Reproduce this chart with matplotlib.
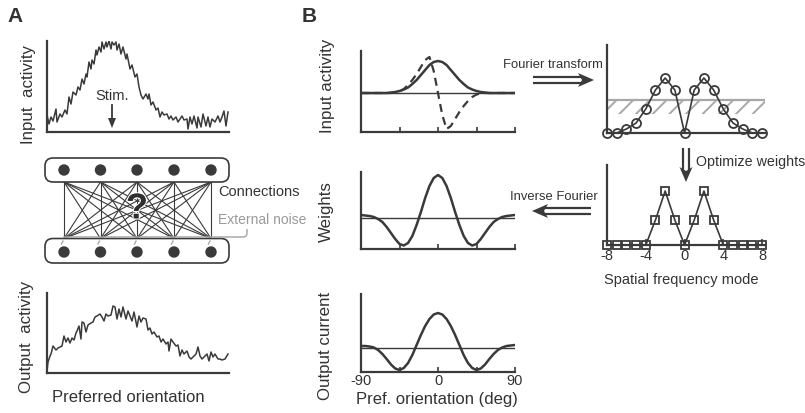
import numpy as np
import matplotlib
matplotlib.use("Agg")
import matplotlib.pyplot as plt
import matplotlib.patheffects as pe
from matplotlib.patches import FancyBboxPatch, Circle, Polygon
from matplotlib.path import Path
from matplotlib.patches import PathPatch

plt.rcParams['font.family'] = ['Liberation Sans', 'DejaVu Sans']
plt.rcParams['hatch.linewidth'] = 1.4

W, H = 805, 414
DARK = '#3a3a3a'
TXT = '#333333'
GREY = '#9a9a9a'

# ---------------- data ----------------
# Panel A: noisy input activity (position along axis, activity)
inA_x = [0, 2, 4, 6, 9, 10, 13, 15, 18, 20, 22, 24, 26, 29, 31, 33, 35, 37, 39, 40, 42, 44, 45, 47, 49, 50,
         52, 54, 55, 57, 59, 60, 62, 64, 65, 67, 69, 70, 72, 74, 76, 79, 80, 83, 85, 88, 90, 92, 94, 96, 99,
         101, 102, 104, 106, 109, 111, 113, 115, 117, 120, 122, 124, 126, 129, 131, 133, 135, 137, 140, 141,
         143, 145, 147, 150, 151, 154, 156, 159, 161, 163, 165, 168, 171, 173, 175, 177, 179, 181]
inA_y = [17, 8, 15, 11, 23, 10, 18, 15, 22, 18, 35, 28, 40, 37, 45, 42, 53, 48, 58, 55, 70, 63, 72, 68, 82, 77,
         85, 80, 90, 83, 90, 85, 91, 83, 90, 87, 90, 82, 88, 78, 85, 73, 78, 63, 67, 55, 58, 45, 37, 33, 38,
         33, 38, 27, 30, 22, 24, 15, 20, 17, 18, 13, 16, 12, 15, 10, 13, 16, 12, 13, 3,
         15, 8, 16, 4, 15, 5, 18, 6, 15, 5, 13, 10, 16, 10, 15, 21, 6, 20]

# Panel A: noisy output activity
outA_x = [0, 1, 3, 4, 6, 9, 11, 13, 15, 17, 19, 21, 23, 25, 27, 29, 30, 32, 34, 35, 37, 39, 41, 44, 46, 48,
          50, 53, 55, 57, 59, 61, 64, 66, 68, 70, 72, 74, 76, 79, 81, 83, 85, 87, 90, 92, 94, 96, 99, 101,
          103, 105, 107, 110, 112, 114, 116, 119, 121, 122, 124, 126, 129, 131, 133, 135, 137, 140, 142, 144,
          146, 149, 151, 153, 155, 157, 160, 162, 164, 166, 168, 171, 173, 175, 178, 181]
outA_y = [2, 11, 17, 19, 27, 23, 25, 26, 27, 37, 31, 35, 30, 35, 33, 40, 42, 47, 34, 51, 50, 41, 48, 50, 51, 56,
          57, 59, 56, 52, 59, 57, 58, 67, 66, 54, 64, 56, 66, 54, 62, 57, 52, 61, 46, 57, 51, 55, 54, 43,
          45, 39, 41, 36, 37, 31, 34, 29, 31, 22, 34, 31, 27, 28, 17, 23, 19, 22, 16, 14,
          16, 19, 26, 17, 14, 16, 19, 12, 21, 16, 19, 14, 14, 13, 14, 19]

# Panel B: preferred orientation (deg) and curves
orient = [-90, -85, -80, -75, -70, -65, -60, -55, -50, -45, -40, -35, -30, -25, -20, -15, -10, -5, 0,
          5, 10, 15, 20, 25, 30, 35, 40, 45, 50, 55, 60, 65, 70, 75, 80, 85, 90]
input_solid = [0, 0, 0, 0, 0, 0, 0, 0.5, 1, 2, 3.5, 5.5, 9, 13, 18, 23, 28, 31, 32,
               31, 28, 23, 18, 13, 9, 5.5, 3.5, 2, 1, 0.5, 0, 0, 0, 0, 0, 0, 0]
input_dashed = [0, 0, 0, 0, 0, 0, 0, 0, 0.5, 1.5, 4, 8, 13, 19, 26, 33, 36, 22, 0,
                -22, -36, -33, -26, -19, -13, -8, -4, -1.5, -0.5, 0, 0, 0, 0, 0, 0, 0, 0]
weights = [3, 2.5, 2, 1, -1, -4, -9, -15, -21, -26, -27.5, -25, -18, -7, 6, 20, 32, 40, 43,
           40, 32, 20, 6, -7, -18, -25, -27.5, -26, -21, -15, -9, -4, -1, 1, 2, 2.5, 3]
output_current = [2, 2, 1.5, 0.5, -2, -6, -11, -16.5, -20.5, -22, -20, -15, -7, 3, 13, 22, 29, 33.5, 35,
                  33.5, 29, 22, 13, 3, -7, -15, -20, -22, -20.5, -16.5, -11, -6, -2, 0.5, 2, 2.5, 3]
orient_ticks = [-90, -45, 0, 45, 90]
orient_labels = ['-90', '', '0', '', '90']

# Spatial frequency modes
modes = list(range(-8, 9))
input_power = [0, 0, 4, 10, 24, 43, 55, 43, 0, 43, 55, 43, 24, 10, 4, 0, 0]
noise_level = 33
noise_low = 19
opt_weights = [0, 0, 0, 0, 0, 25, 54, 25, 0, 25, 54, 25, 0, 0, 0, 0, 0]
mode_ticks = [-8, -4, 0, 4, 8]

# ---------------- figure ----------------
fig = plt.figure(figsize=(W / 100, H / 100), dpi=100)

ov = fig.add_axes([0, 0, 1, 1])
ov.set_xlim(0, W)
ov.set_ylim(H, 0)
ov.axis('off')


def add_ax(x0, y0, x1, y1):
    ax = fig.add_axes([x0 / W, 1 - y1 / H, (x1 - x0) / W, (y1 - y0) / H])
    ax.patch.set_alpha(0)
    for s in ['top', 'right']:
        ax.spines[s].set_visible(False)
    for s in ['left', 'bottom']:
        ax.spines[s].set_color(DARK)
        ax.spines[s].set_linewidth(1.6)
    ax.tick_params(colors=DARK, labelcolor=TXT)
    return ax


def noticks(ax):
    ax.set_xticks([])
    ax.set_yticks([])


# Panel A input
ax = add_ax(47, 42, 229, 133)
ax.plot(inA_x, inA_y, color=DARK, lw=1.1)
ax.set_xlim(0, 182)
ax.set_ylim(0, 91)
noticks(ax)

# Panel A output
ax = add_ax(47, 294, 229, 374)
ax.plot(outA_x, outA_y, color=DARK, lw=1.1)
ax.set_xlim(0, 182)
ax.set_ylim(0, 80)
noticks(ax)


def orient_ax(y0, y1, ylim, labels=False):
    ax = add_ax(361, y0, 515, y1)
    ax.set_xlim(-90, 90)
    ax.set_ylim(*ylim)
    ax.set_yticks([])
    ax.set_xticks(orient_ticks)
    ax.tick_params(axis='x', direction='in', length=3.5, width=1.2, pad=1)
    if labels:
        ax.set_xticklabels(orient_labels, fontsize=10.5)
    else:
        ax.set_xticklabels([])
    ax.axhline(0, color=DARK, lw=1.0)
    return ax


ax = orient_ax(52, 133, (-39, 42))
ax.plot(orient, input_solid, color=DARK, lw=1.8)
ax.plot(orient, input_dashed, color=DARK, lw=1.6, ls=(0, (3.6, 2.4)))

ax = orient_ax(173, 250, (-31, 46))
ax.plot(orient, weights, color=DARK, lw=1.8)

ax = orient_ax(295, 373, (-24, 54), labels=True)
ax.plot(orient, output_current, color=DARK, lw=1.8)

# spectra
ax = add_ax(607, 46, 765, 134)
ax.set_xlim(-8, 8.3)
ax.set_ylim(0, 88)
noticks(ax)
ax.fill_between([-8, 8.3], noise_low, noise_level, facecolor='none', edgecolor='#a8a8a8',
                hatch='//', lw=0)
ax.plot([-8, 8.3], [noise_level, noise_level], color='#a8a8a8', lw=1.6)
ax.plot(modes, input_power, color=DARK, lw=1.2, marker='o', ms=6.5, mfc='none',
        mec=DARK, mew=1.3, clip_on=False)

ax = add_ax(607, 166, 765, 246)
ax.set_xlim(-8, 8.3)
ax.set_ylim(0, 80)
ax.set_yticks([])
ax.set_xticks(mode_ticks)
ax.set_xticklabels([str(m) for m in mode_ticks], fontsize=10.5)
ax.tick_params(axis='x', direction='in', length=4, width=1.2, pad=2)
ax.plot(modes, opt_weights, color=DARK, lw=1.2, marker='s', ms=5.5, mfc='none',
        mec=DARK, mew=1.3, clip_on=False)

# ---------------- overlay: labels, network, arrows ----------------
ov.text(7, 17, 'A', fontsize=15, fontweight='bold', color=TXT, va='center', ha='left')
ov.text(302, 17, 'B', fontsize=15, fontweight='bold', color=TXT, va='center', ha='left')

ylab = dict(fontsize=12.2, color=TXT, rotation=90, ha='center', va='center')
ov.text(28, 94, 'Input  activity', **ylab)
ov.text(26, 337, 'Output  activity', **ylab)
ov.text(327, 86, 'Input activity', **ylab)
ov.text(326, 212, 'Weights', **ylab)
ov.text(325, 346, 'Output current', **ylab)

ov.text(128, 398, 'Preferred orientation', fontsize=12, color=TXT, ha='center', va='center')
ov.text(437, 400, 'Pref. orientation (deg)', fontsize=12, color=TXT, ha='center', va='center')
ov.text(681, 280, 'Spatial frequency mode', fontsize=10.5, color=TXT, ha='center', va='center')

# Stim arrow
ov.text(112, 96, 'Stim.', fontsize=10.5, color=TXT, ha='center', va='center')
ov.plot([112, 112], [106, 120], color=DARK, lw=1.3)
ov.add_patch(Polygon([[108, 119], [116, 119], [112, 129]], closed=True, color=DARK, lw=0))

# Network
node_x = [64, 100.5, 137, 174, 211]
top_y, bot_y = 171, 253
for xt in node_x:
    for xb in node_x:
        ov.plot([xt, xb], [183, 239.5], color=DARK, lw=0.8, zorder=2)
for yy0, yy1 in [(159, 183), (239.5, 264)]:
    ov.add_patch(FancyBboxPatch((45, yy0), 184, yy1 - yy0, boxstyle='round,pad=0,rounding_size=8',
                                facecolor='white', edgecolor=DARK, lw=1.2, zorder=3))
for xn in node_x:
    ov.add_patch(Circle((xn, top_y), 5, color=DARK, zorder=4))
    ov.add_patch(Circle((xn, bot_y), 5, color=DARK, zorder=4))
    ov.plot([xn - 2.5, xn - 1], [245, 242], color='#aaaaaa', lw=1.0, zorder=4)
ov.text(137, 210, '?', fontsize=26, fontweight='bold', color='#2e2e2e', ha='center', va='center',
        zorder=10, path_effects=[pe.withStroke(linewidth=1.5, foreground='white')])

ov.text(218, 192, 'Connections', fontsize=10.5, color=TXT, ha='left', va='center')
ov.text(218, 220, 'External noise', fontsize=10, color=GREY, ha='left', va='center')
verts = [(63, 238), (243, 238), (247, 238), (247, 234), (247, 230)]
codes = [Path.MOVETO, Path.LINETO, Path.CURVE3, Path.CURVE3, Path.LINETO]
ov.add_patch(PathPatch(Path(verts, codes), facecolor='none', edgecolor='#aaaaaa', lw=1.1, zorder=5))


def double_arrow(tail, tip, half_gap=2.6, head_len=16, head_half=7):
    tail = np.array(tail, float)
    tip = np.array(tip, float)
    d = tip - tail
    d /= np.hypot(*d)
    n = np.array([-d[1], d[0]])
    back = tip - d * head_len
    for s in (-1, 1):
        p0 = tail + n * s * half_gap
        p1 = back + d * 3 + n * s * half_gap
        ov.plot([p0[0], p1[0]], [p0[1], p1[1]], color=DARK, lw=1.6, solid_capstyle='butt')
    notch = back + d * 4
    ov.add_patch(Polygon([back + n * head_half, tip, back - n * head_half, notch],
                         closed=True, color=DARK, lw=0))


ov.text(503, 65, 'Fourier transform', fontsize=9.4, color=TXT, ha='left', va='center')
double_arrow((533, 81), (594, 81))
ov.text(696, 162, 'Optimize weights', fontsize=10.3, color=TXT, ha='left', va='center')
double_arrow((686, 149), (686, 183), head_len=15, head_half=6.5)
ov.text(510, 197, 'Inverse Fourier', fontsize=9.4, color=TXT, ha='left', va='center')
double_arrow((591, 212), (532, 212))

fig.savefig('out.png', dpi=100)
